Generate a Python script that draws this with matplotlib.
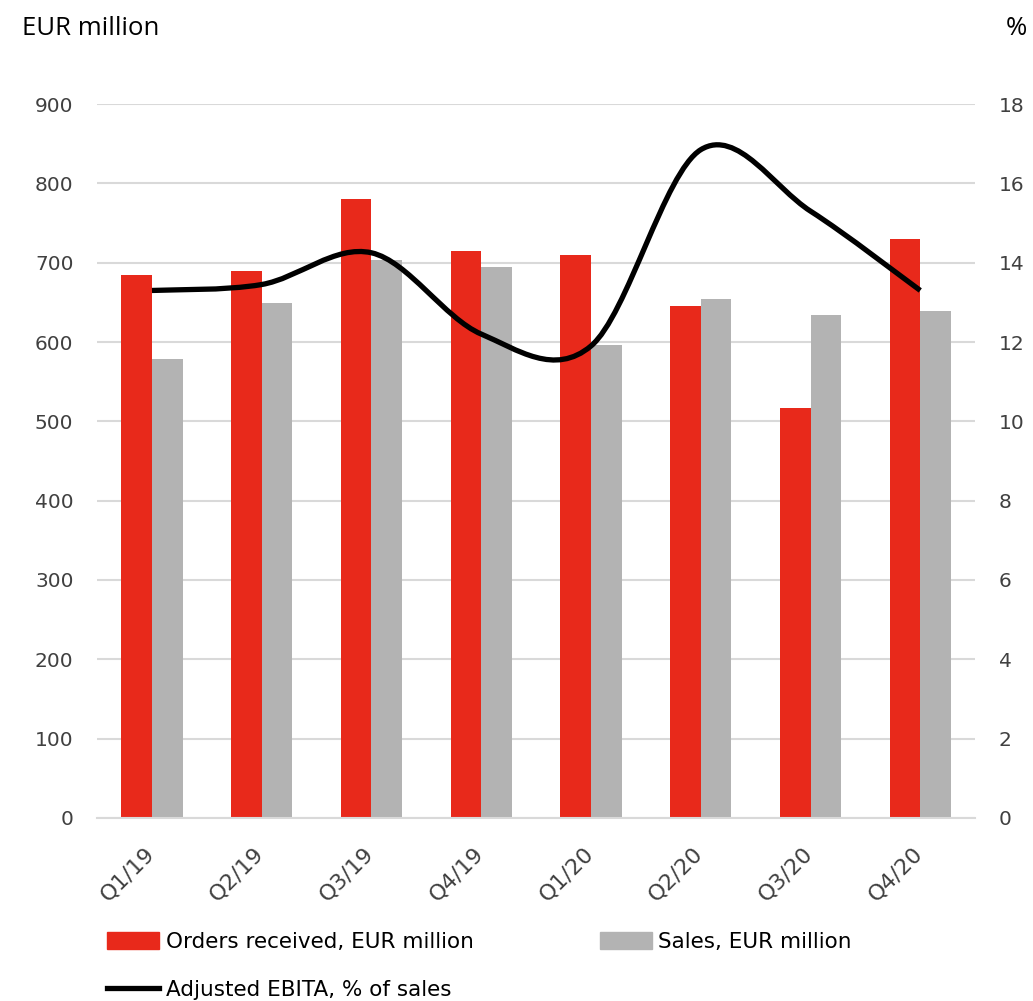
import matplotlib
matplotlib.use("Agg")
import matplotlib.pyplot as plt
import matplotlib.transforms as mtransforms
from matplotlib.path import Path
from matplotlib.patches import PathPatch, Patch
from matplotlib.lines import Line2D
import numpy as np

quarters = ["Q1/19", "Q2/19", "Q3/19", "Q4/19", "Q1/20", "Q2/20", "Q3/20", "Q4/20"]
orders = [685, 690, 780, 715, 710, 645, 517, 730]
sales = [578, 649, 704, 694, 596, 654, 634, 639]
ebita = [13.3, 13.45, 14.25, 12.2, 11.9, 16.85, 15.3, 13.3]

red = "#E8291B"
grey = "#B3B3B3"
tick_col = "#404040"

fig = plt.figure(figsize=(10.33, 10.01), dpi=100)
ax = fig.add_axes([0.094, 0.183, 0.850, 0.713])
ax2 = ax.twinx()

x = np.arange(len(quarters))
w = 0.28
ax.bar(x - w / 2, orders, w, color=red, zorder=2)
ax.bar(x + w / 2, sales, w, color=grey, zorder=2)

ax.set_xlim(-0.5, len(quarters) - 0.5)
ax.set_ylim(0, 900)
ax.set_yticks(range(0, 901, 100))
ax.grid(axis="y", color="#D9D9D9", linewidth=1.5, zorder=0)
ax.set_axisbelow(True)
for s in ax.spines.values():
    s.set_visible(False)
for s in ax2.spines.values():
    s.set_visible(False)
ax.spines["bottom"].set_visible(True)
ax.spines["bottom"].set_color("#D9D9D9")
ax.spines["bottom"].set_linewidth(1.5)
ax.tick_params(axis="y", length=0, pad=17, labelsize=14.5, labelcolor=tick_col)
ax.tick_params(axis="x", length=0, pad=18, labelsize=16, labelcolor=tick_col)
ax.set_xticks(x)
ax.set_xticklabels(quarters, rotation=45, ha="right", va="top", rotation_mode="anchor")
shift = mtransforms.ScaledTranslation(-8 / 100, 0, fig.dpi_scale_trans)
for lbl in ax.get_xticklabels():
    lbl.set_transform(lbl.get_transform() + shift)

ax2.set_ylim(0, 18)
ax2.set_yticks(range(0, 19, 2))
ax2.tick_params(axis="y", length=0, pad=17, labelsize=14.5, labelcolor=tick_col)

# smoothed line (Excel style: Catmull-Rom control points, tension 1/6)
pts = list(zip(x.astype(float), ebita))
verts = [pts[0]]
codes = [Path.MOVETO]
for i in range(len(pts) - 1):
    p0 = pts[i - 1] if i > 0 else pts[i]
    p1 = pts[i]
    p2 = pts[i + 1]
    p3 = pts[i + 2] if i + 2 < len(pts) else pts[i + 1]
    c1 = (p1[0] + (p2[0] - p0[0]) / 6, p1[1] + (p2[1] - p0[1]) / 6)
    c2 = (p2[0] - (p3[0] - p1[0]) / 6, p2[1] - (p3[1] - p1[1]) / 6)
    verts += [c1, c2, p2]
    codes += [Path.CURVE4] * 3
ax2.add_patch(PathPatch(Path(verts, codes), fill=False, edgecolor="black",
                        linewidth=3.8, capstyle="butt", zorder=3))

fig.text(0.021, 0.972, "EUR million", fontsize=18.5, va="center", ha="left",
         family="Open Sans", color="black")
fig.text(0.984, 0.972, "%", fontsize=18.5, va="center", ha="center",
         family="Open Sans", color="black")

leg_kw = dict(frameon=False, handlelength=2.4, handleheight=0.85,
              handletextpad=0.3, borderaxespad=0, borderpad=0,
              prop={"family": "DejaVu Sans Condensed", "size": 15.5})
fig.legend([Patch(color=red)], ["Orders received, EUR million"], loc="center left",
           bbox_to_anchor=(0.104, 0.059), **leg_kw)
fig.legend([Patch(color=grey)], ["Sales, EUR million"], loc="center left",
           bbox_to_anchor=(0.581, 0.059), **leg_kw)
fig.legend([Line2D([], [], color="black", linewidth=3.8)], ["Adjusted EBITA, % of sales"],
           loc="center left", bbox_to_anchor=(0.104, 0.011), **leg_kw)

fig.savefig("out.png", dpi=100)
